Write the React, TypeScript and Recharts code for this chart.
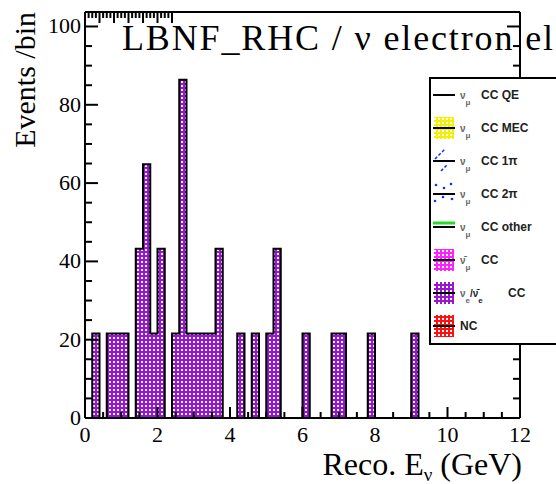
import React from 'react'
import { ComposedChart, Area, XAxis, YAxis, Legend } from 'recharts'

// Reco. E_nu histogram, 0.2 GeV bins from 0 to 12 GeV
const binWidth = 0.2
const eventsPerBin = [
  0, 21.6, 0, 21.6, 21.6, 21.6, 0, 43.2, 64.8, 21.6,
  43.2, 0, 21.6, 86.4, 21.6, 21.6, 21.6, 21.6, 43.2, 0,
  0, 21.6, 0, 21.6, 0, 21.6, 43.2, 0, 0, 0,
  21.6, 0, 0, 0, 21.6, 21.6, 0, 0, 0, 21.6,
  0, 0, 0, 0, 0, 21.6, 0, 0, 0, 0,
  0, 0, 0, 0, 0, 0, 0, 0, 0, 0,
]

const xRange = [0, 12]
const yRange = [0, 103.7]
const xMajorTicks = [0, 2, 4, 6, 8, 10, 12]
const xMinorTicks = [0.5, 1, 1.5, 2.5, 3, 3.5, 4.5, 5, 5.5, 6.5, 7, 7.5, 8.5, 9, 9.5, 10.5, 11, 11.5]
const yMajorTicks = [0, 20, 40, 60, 80, 100]
const yMinorTicks = [5, 10, 15, 25, 30, 35, 45, 50, 55, 65, 70, 75, 85, 90, 95]

const legendLabels = [
  { nu: 'ν', sub: 'μ', rest: 'CC QE' },
  { nu: 'ν', sub: 'μ', rest: 'CC MEC' },
  { nu: 'ν', sub: 'μ', rest: 'CC 1π' },
  { nu: 'ν', sub: 'μ', rest: 'CC 2π' },
  { nu: 'ν', sub: 'μ', rest: 'CC other' },
  { nu: 'ν̄', sub: 'μ', rest: 'CC' },
  { nu: 'ν', sub: 'e', mid: '/ν̄', sub2: 'e', rest: 'CC' },
  { nu: '', sub: '', rest: 'NC' },
]

const serif = '"Liberation Serif", "Times New Roman", serif'
const sans = '"Liberation Sans", Arial, sans-serif'
const frame = { stroke: '#000', strokeWidth: 2 }

function Cross({ id, color }: { id: string; color: string }) {
  return (
    <pattern id={id} width={4} height={4} patternUnits="userSpaceOnUse">
      <rect width={4} height={4} fill={color} />
      <rect x={1} y={1} width={2} height={2} fill="#fff" />
    </pattern>
  )
}

// ROOT style ticks: drawn inward from the frame, long for majors, short for minors
function makeTick(side: 'bottom' | 'top' | 'left' | 'right', majors: number[], labels: boolean) {
  return (props: any) => {
    const { x, y, payload } = props
    const major = majors.includes(payload.value)
    const isX = side === 'bottom' || side === 'top'
    const len = isX ? (major ? 11 : 6) : (major ? 13 : 7)
    let x2 = x
    let y2 = y
    if (side === 'bottom') y2 = y - len
    if (side === 'top') y2 = y + len
    if (side === 'left') x2 = x + len
    if (side === 'right') x2 = x - len
    return (
      <g>
        <line x1={x} y1={y} x2={x2} y2={y2} stroke="#000" strokeWidth={2} />
        {labels && major && side === 'bottom' && (
          <text x={x} y={y + 24} textAnchor="middle" fontFamily={serif} fontSize={22} fill="#000">
            {payload.value}
          </text>
        )}
        {labels && major && side === 'left' && (
          <text x={x - 4} y={y + 7} textAnchor="end" fontFamily={serif} fontSize={22} fill="#000">
            {payload.value}
          </text>
        )}
      </g>
    )
  }
}

function symbolFor(i: number, cy: number) {
  const bar = <line x1={4} x2={26} y1={cy} y2={cy} stroke="#000" strokeWidth={2} />
  const box = (fill: string) => (
    <g>
      <rect x={5} y={cy - 11} width={20} height={22} fill={fill} />
      {bar}
    </g>
  )
  switch (i) {
    case 0:
      return bar
    case 1:
      return box('url(#legYellow)')
    case 2:
      return (
        <g>
          <line x1={6} y1={cy - 2} x2={16} y2={cy - 12} stroke="#1030ff" strokeWidth={1.5} strokeDasharray="3 2" />
          <line x1={12} y1={cy + 10} x2={18} y2={cy + 4} stroke="#1030ff" strokeWidth={1.5} strokeDasharray="3 2" />
          {bar}
        </g>
      )
    case 3:
      return (
        <g>
          {[[7, -9], [15, -6], [22, -10], [6, 7], [14, 3], [23, 5]].map(([dx, dy], k) => (
            <circle key={k} cx={dx} cy={cy + dy} r={1.3} fill="#1030ff" />
          ))}
          {bar}
        </g>
      )
    case 4:
      return (
        <g>
          <line x1={4} x2={26} y1={cy - 4} y2={cy - 4} stroke="#22dd22" strokeWidth={3} />
          {bar}
        </g>
      )
    case 5:
      return box('url(#legMagenta)')
    case 6:
      return box('url(#legPurple)')
    default:
      return box('url(#legRed)')
  }
}

function LegendBox() {
  return (
    <svg width={127} height={268} style={{ display: 'block' }}>
      <defs>
        <Cross id="legYellow" color="#f5f000" />
        <Cross id="legMagenta" color="#ff20ff" />
        <Cross id="legPurple" color="#9b14d4" />
        <Cross id="legRed" color="#ff1010" />
      </defs>
      <rect x={1} y={1} width={180} height={266} fill="#fff" stroke="#000" strokeWidth={2} />
      {legendLabels.map((lab, i) => {
        const cy = 18 + 33 * i
        const restX = lab.mid ? 79 : lab.nu ? 52 : 31
        return (
          <g key={i}>
            {symbolFor(i, cy)}
            <text x={31} y={cy + 4} fontFamily={sans} fontWeight="bold" fontSize={12} fill="#222">
              {lab.nu && <tspan fontSize={10} fill="#666">{lab.nu}</tspan>}
              {lab.sub && <tspan dy={6} fontSize={8} fill="#666">{lab.sub}</tspan>}
              {lab.mid && <tspan dy={-6} fontSize={10}>{lab.mid}</tspan>}
              {lab.sub2 && <tspan dy={6} fontSize={8}>{lab.sub2}</tspan>}
              <tspan x={restX} y={cy + 4}>{lab.rest}</tspan>
            </text>
          </g>
        )
      })}
    </svg>
  )
}

export default function App() {
  const data = eventsPerBin.map((v, i) => ({ e: Math.round(i * binWidth * 10) / 10, v }))
  data.push({ e: xRange[1], v: 0 })

  const xTicks = [...xMajorTicks, ...xMinorTicks]
  const yTicks = [...yMajorTicks, ...yMinorTicks]

  return (
    <div style={{ position: 'absolute', left: 0, top: 0 }}>
      <ComposedChart width={556} height={484} data={data} margin={{ top: 11, right: 35, bottom: 65, left: 84 }}>
        <defs>
          <Cross id="nueHatch" color="#9b14d4" />
        </defs>

        <XAxis xAxisId="x" type="number" dataKey="e" domain={xRange} ticks={xTicks} interval={0}
          allowDataOverflow height={1} tickSize={0} tickMargin={0} axisLine={frame} tickLine={false}
          tick={makeTick('bottom', xMajorTicks, true)} />
        <XAxis xAxisId="xTop" orientation="top" type="number" domain={xRange} ticks={xTicks} interval={0}
          allowDataOverflow height={1} tickSize={0} tickMargin={0} axisLine={frame} tickLine={false}
          tick={makeTick('top', xMajorTicks, false)} />
        <YAxis yAxisId="y" type="number" domain={yRange} ticks={yTicks} interval={0}
          allowDataOverflow width={1} tickSize={0} tickMargin={0} axisLine={frame} tickLine={false}
          tick={makeTick('left', yMajorTicks, true)} />
        <YAxis yAxisId="yRight" orientation="right" type="number" domain={yRange} ticks={yTicks} interval={0}
          allowDataOverflow width={1} tickSize={0} tickMargin={0} axisLine={frame} tickLine={false}
          tick={makeTick('right', yMajorTicks, false)} />

        <Area xAxisId="x" yAxisId="y" type="stepAfter" dataKey="v" stroke="#000" strokeWidth={2}
          fill="url(#nueHatch)" fillOpacity={1} dot={false} activeDot={false} isAnimationActive={false} />

        <text x={122} y={50} fontFamily={serif} fontSize={36} fill="#000" textLength={431} lengthAdjust="spacing">
          LBNF_RHC / ν electron el
        </text>
        <text x={35} y={12} transform="rotate(-90, 35, 12)" textAnchor="end" fontFamily={serif} fontSize={30} fill="#000">
          Events /bin
        </text>
        <text x={522} y={475} textAnchor="end" fontFamily={serif} fontSize={32} fill="#000">
          Reco. E<tspan fontSize={19} dy={6}>ν</tspan><tspan dy={-6}> (GeV)</tspan>
        </text>

        <Legend layout="vertical" align="center" verticalAlign="middle" content={() => <LegendBox />}
          wrapperStyle={{ left: 429, top: 77, right: 'auto', bottom: 'auto', width: 127, height: 268 }} />
      </ComposedChart>
    </div>
  )
}
